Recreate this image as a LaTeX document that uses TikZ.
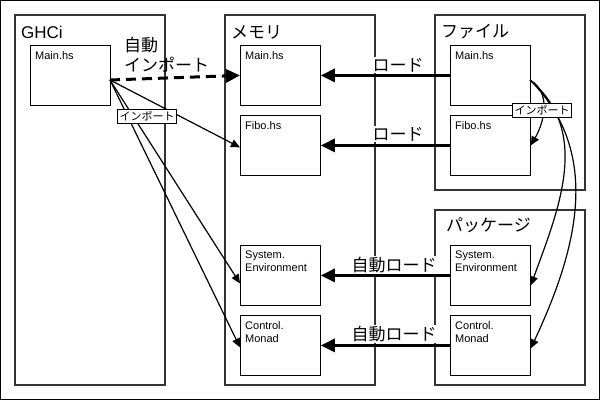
\documentclass[tikz,border=0pt]{standalone}
\usepackage{fontspec}
\setmainfont{Liberation Sans}
\newfontfamily\cjk{Noto Sans CJK JP}
\usetikzlibrary{arrows.meta}
\begin{document}
\begin{tikzpicture}[x=1pt,y=-1pt,
 cont/.style={draw=black!80,line width=2pt},
 title/.style={anchor=west,font=\fontsize{17}{19}\selectfont,inner sep=0pt},
 box/.style={draw,line width=0.8pt,minimum width=80pt,minimum height=60pt,anchor=north west,inner sep=0pt},
 lbl/.style={anchor=north west,font=\fontsize{11}{13}\selectfont,align=left,inner sep=0pt},
 load/.style={line width=3pt,-{Triangle[length=14pt,width=13pt]}},
 imp/.style={line width=1.2pt,-{Triangle[length=9pt,width=8pt]}},
 big/.style={font=\cjk\fontsize{17}{20}\selectfont,fill=white,inner sep=1pt},
 small/.style={font=\cjk\fontsize{11}{13}\selectfont,draw,fill=white,inner sep=2pt,line width=0.8pt}]
\useasboundingbox (0,0) rectangle (600,400);
\draw[line width=1pt] (0.5,0.5) rectangle (599.5,399.5);
\draw[cont] (15,15) rectangle (165,385);
\draw[cont] (225,15) rectangle (375,385);
\draw[cont] (435,15) rectangle (585,190);
\draw[cont] (435,210) rectangle (585,385);
\node[title] (tg) at (21,32) {GHCi};
\node[title,font=\cjk\fontsize{17}{19}\selectfont] (tm) at (231,32) {メモリ};
\node[title,font=\cjk\fontsize{17}{19}\selectfont] (tf) at (441,32) {ファイル};
\node[title,font=\cjk\fontsize{17}{19}\selectfont] (tp) at (446,225) {パッケージ};
\node[box] (gm) at (30,45) {};
\node[box] (mm) at (240,45) {};
\node[box] (mf) at (240,115) {};
\node[box] (ms) at (240,245) {};
\node[box] (mc) at (240,315) {};
\node[box] (fm) at (450,45) {};
\node[box] (ff) at (450,115) {};
\node[box] (ps) at (450,245) {};
\node[box] (pc) at (450,315) {};
\foreach \n/\t in {gm/Main.hs,mm/Main.hs,mf/Fibo.hs,fm/Main.hs,ff/Fibo.hs,ms/System.\\Environment,mc/Control.\\Monad,ps/System.\\Environment,pc/Control.\\Monad}
  \node[lbl] (l\n) at ([xshift=5pt,yshift=-6pt]\n.north west) {\t};
\coordinate (ga) at (110,80);
\coordinate (fa) at (530,80);
% auto import
\draw[line width=3pt,dash pattern=on 10pt off 6pt,-{Triangle[length=14pt,width=13pt]}] (ga) -- (mm.west);
\node[big,fill=none,align=left,anchor=west,inner sep=0pt] (ai) at (124,55) {自動\\インポート};
% loads
\draw[load] (fm.west) -- (mm.east);
\draw[load] (ff.west) -- (mf.east);
\draw[load] (ps.west) -- (ms.east);
\draw[load] (pc.west) -- (mc.east);
\node[big] (r1) at (398,65) {ロード};
\node[big] (r2) at (398,134) {ロード};
\node[big] (r3) at (394,265) {自動ロード};
\node[big] (r4) at (394,334) {自動ロード};
% imports GHCi
\draw[imp] (ga) -- ([yshift=-2pt]mf.west);
\draw[imp] (ga) -- ([yshift=-8pt]ms.west);
\draw[imp] (ga) -- ([yshift=-2pt]mc.west);
\node[small] (i1) at (147,116) {インポート};
% imports file side
\draw[imp] (fa) to[out=-30,in=60] (ff.east);
\draw[imp] (fa) to[out=-40,in=70] ([yshift=-10pt]ps.east);
\draw[imp] (fa) to[out=-45,in=65] ([yshift=-3pt]pc.east);
\node[small] (i2) at (542,110) {インポート};
\end{tikzpicture}
\end{document}
